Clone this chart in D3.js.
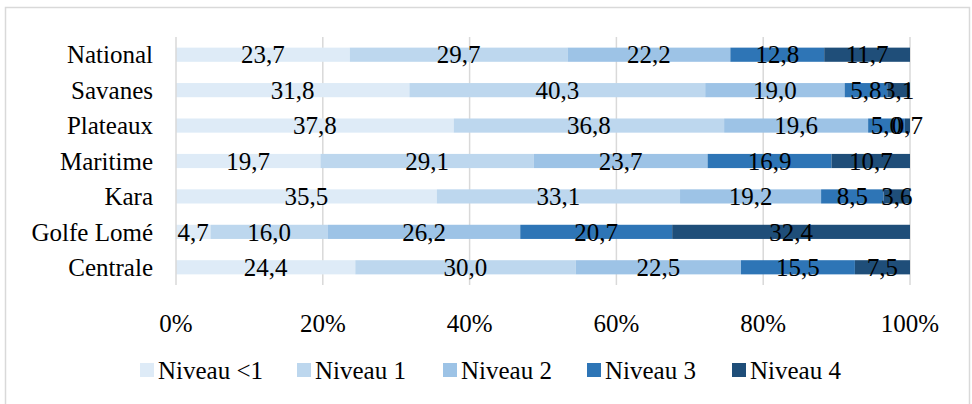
<!DOCTYPE html>
<html>
<head>
<meta charset="utf-8">
<script src="https://cdn.jsdelivr.net/npm/d3@7"></script>
<style>
  body { margin: 0; background: #fff; }
  svg text { font-family: "Liberation Serif", "DejaVu Serif", "Noto Serif", Tinos, "Times New Roman", Times, serif; }
</style>
</head>
<body>
<svg width="972" height="404"></svg>
<script>
// Regions, top to bottom
const regions = ["National", "Savanes", "Plateaux", "Maritime", "Kara", "Golfe Lomé", "Centrale"];
const levels = ["Niveau <1", "Niveau 1", "Niveau 2", "Niveau 3", "Niveau 4"];
const colors = ["#deebf7", "#bdd7ee", "#9dc3e6", "#2e75b6", "#1f4e79"];

// Values per level, in the order of regions
const niveauMoins1 = [23.7, 31.8, 37.8, 19.7, 35.5, 4.7, 24.4];
const niveau1 = [29.7, 40.3, 36.8, 29.1, 33.1, 16.0, 30.0];
const niveau2 = [22.2, 19.0, 19.6, 23.7, 19.2, 26.2, 22.5];
const niveau3 = [12.8, 5.8, 5.0, 16.9, 8.5, 20.7, 15.5];
const niveau4 = [11.7, 3.1, 0.7, 10.7, 3.6, 32.4, 7.5];
const xTicks = [0, 0.2, 0.4, 0.6, 0.8, 1];

const series = [niveauMoins1, niveau1, niveau2, niveau3, niveau4];
const fontSize = "25px";

const svg = d3.select("svg");

// outer frame
svg.append("rect")
  .attr("x", 5.5).attr("y", 7.5)
  .attr("width", 964).attr("height", 400)
  .attr("fill", "none").attr("stroke", "#d9d9d9").attr("stroke-width", 1.5);

const margin = { top: 37, left: 176, right: 62, bottom: 119 };
const width = 972 - margin.left - margin.right;
const height = 404 - margin.top - margin.bottom;

const x = d3.scaleLinear().domain([0, 1]).range([0, width]);
const y = d3.scaleBand().domain(regions).range([0, height]).paddingInner(0.6).paddingOuter(0.3);

const g = svg.append("g").attr("transform", `translate(${margin.left},${margin.top})`);

// gridlines
g.selectAll(".grid").data(xTicks.slice(1)).enter().append("line")
  .attr("x1", d => x(d)).attr("x2", d => x(d))
  .attr("y1", 0).attr("y2", height)
  .attr("stroke", "#d9d9d9").attr("stroke-width", 1.5);

// build rows normalised to 100%
const rows = regions.map((r, i) => {
  const vals = series.map(s => s[i]);
  const total = d3.sum(vals);
  let acc = 0;
  return vals.map((v, k) => {
    const seg = { region: r, k, v, x0: acc / total, x1: (acc + v) / total };
    acc += v;
    return seg;
  });
});
const segs = rows.flat();

g.selectAll(".bar").data(segs).enter().append("rect")
  .attr("x", d => x(d.x0))
  .attr("y", d => y(d.region))
  .attr("width", d => x(d.x1) - x(d.x0))
  .attr("height", y.bandwidth())
  .attr("fill", d => colors[d.k]);

g.selectAll(".lbl").data(segs).enter().append("text")
  .attr("x", d => x((d.x0 + d.x1) / 2))
  .attr("y", d => y(d.region) + y.bandwidth() / 2)
  .attr("dy", "0.35em")
  .attr("text-anchor", "middle")
  .style("font-size", fontSize)
  .text(d => d3.format(".1f")(d.v).replace(".", ","));

// y axis line and labels
g.append("line").attr("x1", 0).attr("x2", 0).attr("y1", 0).attr("y2", height)
  .attr("stroke", "#d9d9d9").attr("stroke-width", 1.5);

g.selectAll(".ylab").data(regions).enter().append("text")
  .attr("x", -23)
  .attr("y", d => y(d) + y.bandwidth() / 2)
  .attr("dy", "0.35em")
  .attr("text-anchor", "end")
  .style("font-size", fontSize)
  .text(d => d);

// x axis labels
g.selectAll(".xlab").data(xTicks).enter().append("text")
  .attr("x", d => x(d))
  .attr("y", height + 38)
  .attr("dy", "0.35em")
  .attr("text-anchor", "middle")
  .style("font-size", fontSize)
  .text(d => d3.format(".0%")(d));

// legend
const legendX = [140, 297, 443, 587, 732];
const legend = svg.append("g").attr("transform", "translate(0,370)");
const items = legend.selectAll(".item").data(levels).enter().append("g")
  .attr("transform", (d, i) => `translate(${legendX[i]},0)`);
items.append("rect").attr("x", 0).attr("y", -7).attr("width", 14).attr("height", 14)
  .attr("fill", (d, i) => colors[i]);
items.append("text").attr("x", 18).attr("y", 0).attr("dy", "0.35em")
  .style("font-size", fontSize).text(d => d);
</script>
</body>
</html>
